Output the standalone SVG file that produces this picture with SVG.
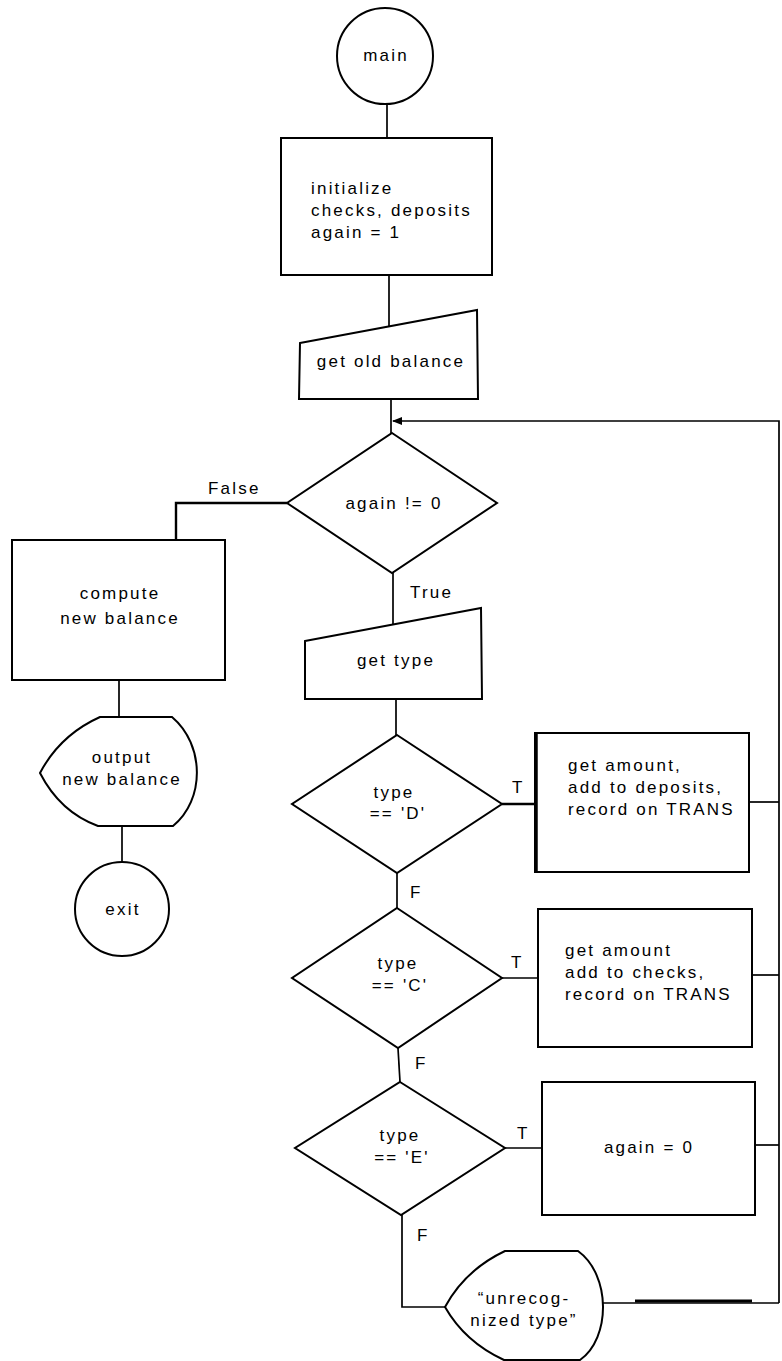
<svg xmlns="http://www.w3.org/2000/svg" width="782" height="1361" viewBox="0 0 782 1361">
  <style>
    .shape { fill: #fff; stroke: #000; stroke-width: 2; }
    .wire { fill: none; stroke: #000; stroke-width: 1.7; }
    text { font-family: "Liberation Sans", Arial, sans-serif; font-size: 17px; letter-spacing: 2.2px; fill: #000; }
    .c { text-anchor: middle; }
  </style>
  <defs>
    <marker id="arrow" viewBox="0 0 10 10" refX="9" refY="5" markerWidth="10" markerHeight="10" markerUnits="userSpaceOnUse" orient="auto">
      <path d="M0,1 L10,5 L0,9 Z" fill="#000"/>
    </marker>
  </defs>
  <rect width="782" height="1361" fill="#fff"/>

  <!-- connectors -->
  <g id="connectors">
    <line class="wire" x1="387" y1="104" x2="387" y2="138"/>
    <line class="wire" x1="389" y1="275" x2="389" y2="327"/>
    <line class="wire" x1="391" y1="399" x2="391" y2="433"/>
    <!-- loop back into the while test -->
    <polyline class="wire" points="779,1303 779,421 393,421" marker-end="url(#arrow)"/>
    <!-- False branch -->
    <polyline class="wire" points="287,503 176,503 176,540" style="stroke-width:2.4"/>
    <line class="wire" x1="119" y1="680" x2="119" y2="717"/>
    <line class="wire" x1="122" y1="826" x2="122" y2="862"/>
    <!-- True branch -->
    <line class="wire" x1="393" y1="573" x2="393" y2="625"/>
    <line class="wire" x1="396" y1="699" x2="396" y2="735"/>
    <line class="wire" x1="502" y1="804" x2="535" y2="804" style="stroke-width:2.4"/>
    <line class="wire" x1="749" y1="802" x2="779" y2="802"/>
    <line class="wire" x1="397" y1="873" x2="397" y2="908"/>
    <line class="wire" x1="502" y1="978" x2="538" y2="978"/>
    <line class="wire" x1="752" y1="975" x2="779" y2="975"/>
    <line class="wire" x1="398" y1="1048" x2="400" y2="1082"/>
    <line class="wire" x1="505" y1="1148" x2="542" y2="1148"/>
    <line class="wire" x1="755" y1="1145" x2="779" y2="1145"/>
    <polyline class="wire" points="402,1215 402,1307 445,1307"/>
    <line class="wire" x1="603" y1="1303" x2="779" y2="1303"/>
    <line x1="635" y1="1301" x2="752" y2="1301" stroke="#000" stroke-width="3"/>
    <!-- branch labels -->
    <text x="208" y="494">False</text>
    <text x="410" y="598">True</text>
    <text x="512" y="793">T</text>
    <text x="410" y="898">F</text>
    <text x="511" y="968">T</text>
    <text x="415" y="1069">F</text>
    <text x="517" y="1139">T</text>
    <text x="417" y="1241">F</text>
  </g>

  <g id="main">
    <circle class="shape" cx="385" cy="56" r="48"/>
    <text class="c" x="386" y="61">main</text>
  </g>

  <g id="initialize">
    <rect class="shape" x="281" y="138" width="211" height="137"/>
    <text x="311" y="194">initialize</text>
    <text x="311" y="216">checks, deposits</text>
    <text x="311" y="238">again = 1</text>
  </g>

  <g id="get-old-balance">
    <polygon class="shape" points="300,343 477,310 478,399 299,399"/>
    <text class="c" x="391" y="367">get old balance</text>
  </g>

  <g id="again-test">
    <polygon class="shape" points="392,433 497,503 392,573 287,503"/>
    <text class="c" x="394" y="509">again != 0</text>
  </g>

  <g id="compute">
    <rect class="shape" x="12" y="540" width="213" height="140"/>
    <text class="c" x="120" y="599">compute</text>
    <text class="c" x="120" y="624">new balance</text>
  </g>

  <g id="output-balance">
    <path class="shape" d="M100,717 L172,717 C205,745 205,800 173,826 L98,826 Q60,812 40,773 Q60,735 100,717 Z"/>
    <text class="c" x="122" y="763">output</text>
    <text class="c" x="122" y="785">new balance</text>
  </g>

  <g id="exit">
    <circle class="shape" cx="122" cy="909" r="47"/>
    <text class="c" x="123" y="915">exit</text>
  </g>

  <g id="get-type">
    <polygon class="shape" points="305,641 481,608 482,699 305,699"/>
    <text class="c" x="396" y="666">get type</text>
  </g>

  <g id="test-d">
    <polygon class="shape" points="397,735 502,804 397,873 292,804"/>
    <text class="c" x="394" y="798">type</text>
    <text class="c" x="398" y="819">== 'D'</text>
  </g>

  <g id="deposit">
    <rect class="shape" x="535" y="733" width="214" height="139"/>
    <line x1="536" y1="733" x2="536" y2="872" stroke="#000" stroke-width="3.5"/>
    <text x="568" y="771">get amount,</text>
    <text x="568" y="793">add to deposits,</text>
    <text x="568" y="815">record on TRANS</text>
  </g>

  <g id="test-c">
    <polygon class="shape" points="397,908 502,978 398,1048 292,978"/>
    <text class="c" x="398" y="969">type</text>
    <text class="c" x="400" y="991">== 'C'</text>
  </g>

  <g id="check">
    <rect class="shape" x="538" y="909" width="214" height="138"/>
    <text x="565" y="956">get amount</text>
    <text x="565" y="978">add to checks,</text>
    <text x="565" y="1000">record on TRANS</text>
  </g>

  <g id="test-e">
    <polygon class="shape" points="400,1082 505,1148 401,1215 295,1148"/>
    <text class="c" x="400" y="1141">type</text>
    <text class="c" x="402" y="1163">== 'E'</text>
  </g>

  <g id="end-input">
    <rect class="shape" x="542" y="1082" width="213" height="133"/>
    <text class="c" x="649" y="1153">again = 0</text>
  </g>

  <g id="unrecognized">
    <path class="shape" d="M505,1251 L578,1251 C611,1275 611,1338 580,1360 L504,1360 Q465,1342 445,1307 Q465,1270 505,1251 Z"/>
    <text class="c" x="524" y="1304">“unrecog-</text>
    <text class="c" x="524" y="1326">nized type”</text>
  </g>
</svg>
